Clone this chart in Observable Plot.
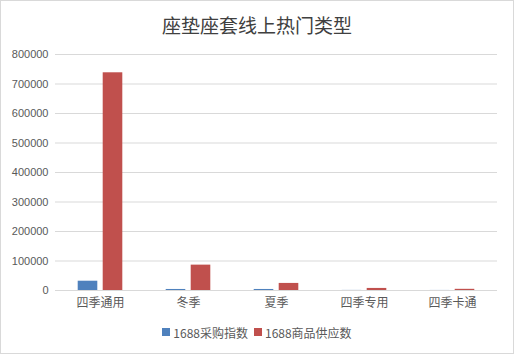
<!DOCTYPE html>
<html><head><meta charset="utf-8">
<script src="https://cdn.jsdelivr.net/npm/d3@7"></script>
<script src="https://cdn.jsdelivr.net/npm/@observablehq/plot@0.6"></script>
<style>
body{margin:0;background:#fff;font-family:"Noto Sans CJK SC","Liberation Sans",sans-serif;}
#wrap{width:512px;height:352px;border:1px solid #d9d9d9;position:relative;overflow:hidden;}
#title{height:39px;box-sizing:border-box;padding-top:14px;font-size:19px;line-height:20px;text-align:center;color:#404040;}
#legend{height:40px;display:flex;justify-content:center;align-items:center;font-size:12px;color:#595959;gap:6px;}
.sw{display:inline-block;width:8px;height:8px;margin-right:3px;vertical-align:middle;}
.item{display:flex;align-items:center;}
</style></head>
<body><div id="wrap"><div id="title">座垫座套线上热门类型</div><div id="chart"></div><div id="legend"></div></div>
<script>
const categories = ["四季通用","冬季","夏季","四季专用","四季卡通"];
const seriesNames = ["1688采购指数","1688商品供应数"];
const purchaseIndex = [31500, 3500, 3500, 300, 200];
const supplyCount = [738000, 86000, 24000, 7000, 4000];
const colors = ["#4f81bd","#c0504d"];
const yTicks = [0,100000,200000,300000,400000,500000,600000,700000,800000];

const W = 512, ML = 54, MR = 16;
const band = (W - ML - MR) / categories.length;
const barW = 20, gap = 5;
const half = band / 2;

const blueData = categories.map((c,i)=>({cat:c, series:seriesNames[0], value:purchaseIndex[i]}));
const redData = categories.map((c,i)=>({cat:c, series:seriesNames[1], value:supplyCount[i]}));

const chart = Plot.plot({
  width:W, height:272,
  marginLeft:ML, marginRight:MR, marginTop:14, marginBottom:22,
  style:{fontFamily:"'Liberation Sans','Noto Sans CJK SC',sans-serif", fontSize:"11px", color:"#595959"},
  x:{domain:categories, padding:0, label:null},
  y:{domain:[0,800000], label:null},
  marks:[
    Plot.ruleY(yTicks, {stroke:"#d9d9d9", strokeWidth:1}),
    Plot.axisY({ticks:yTicks, tickFormat:d=>String(d), tickSize:0, tickPadding:7, label:null, fontSize:11}),
    Plot.axisX({tickSize:0, tickPadding:8, label:null, fontSize:12, fontFamily:"'Noto Sans CJK SC',sans-serif"}),
    Plot.barY(blueData, {x:"cat", y:"value", fill:colors[0], insetLeft: half - gap/2 - barW, insetRight: half + gap/2}),
    Plot.barY(redData, {x:"cat", y:"value", fill:colors[1], insetLeft: half + gap/2, insetRight: half - gap/2 - barW})
  ]
});
document.getElementById("chart").appendChild(chart);

const lg = document.getElementById("legend");
seriesNames.forEach((s,i)=>{
  const it = document.createElement("span"); it.className="item";
  const sw = document.createElement("span"); sw.className="sw"; sw.style.background=colors[i];
  it.appendChild(sw); it.appendChild(document.createTextNode(s));
  lg.appendChild(it);
});
</script></body></html>
